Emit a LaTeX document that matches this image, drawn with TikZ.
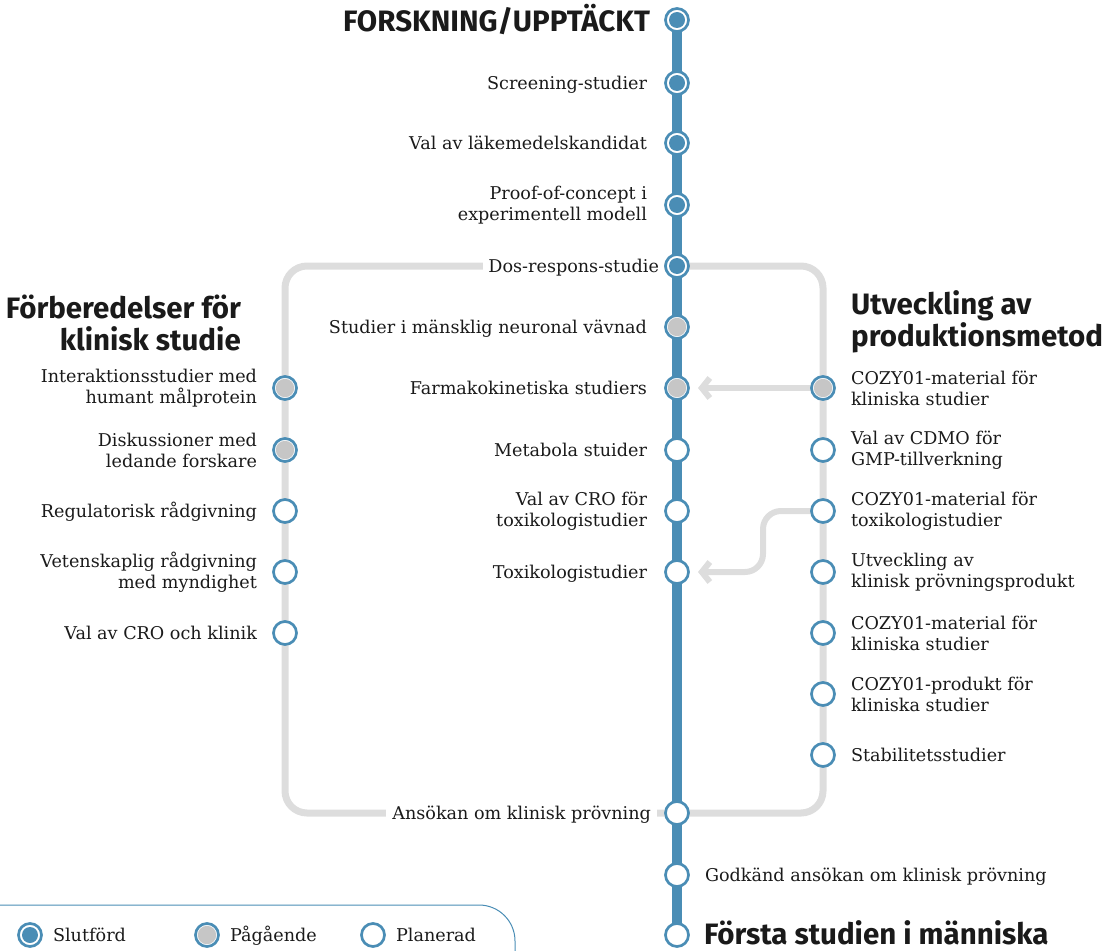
\documentclass[tikz,border=0pt]{standalone}
\usepackage{fontspec}
\setmainfont{DejaVu Serif}
\setsansfont{Fira Sans}
\usetikzlibrary{arrows.meta, positioning, backgrounds}
\definecolor{metroblue}{RGB}{74,141,181}
\definecolor{trackgray}{RGB}{221,221,221}
\definecolor{dotgray}{RGB}{198,198,198}
\definecolor{inkblack}{RGB}{26,26,26}
\tikzstyle{station} = [circle, draw=metroblue, line width=2.7pt, fill=white, minimum size=23pt, inner sep=0pt]
\tikzstyle{finished} = [station, path picture={\fill[metroblue] (path picture bounding box.center) circle (8pt);}]
\tikzstyle{ongoing} = [station, path picture={\fill[dotgray] (path picture bounding box.center) circle (9.2pt);}]
\tikzstyle{planned} = [station]
\tikzstyle{stoplabel} = [text=inkblack, font=\fontsize{17.6}{21}\selectfont, inner sep=0pt, node distance=15pt]
\tikzstyle{oneline} = [stoplabel, text height=14.5pt, text depth=2.5pt]
\tikzstyle{heading} = [text=inkblack, font=\sffamily\bfseries\fontsize{29.5}{32.5}\selectfont, inner sep=0pt, node distance=14pt]
\tikzstyle{mainline} = [draw=metroblue, line width=10pt]
\tikzstyle{track} = [draw=trackgray, line width=7pt, rounded corners=22pt]
\tikzstyle{feed} = [draw=trackgray, line width=6pt, -{Straight Barb[length=8pt, width=20pt]}, shorten >=21pt]

\begin{document}
\begin{tikzpicture}[x=1pt, y=-1pt]
    \useasboundingbox (0,0) rectangle (1115,950);

    % Main line stations
    \node [finished] (m1) at (677,20) {};
    \node [finished] (m2) at (677,83) {};
    \node [finished] (m3) at (677,143) {};
    \node [finished] (m4) at (677,205) {};
    \node [finished] (m5) at (677,266) {};
    \node [ongoing] (m6) at (677,327) {};
    \node [ongoing] (m7) at (677,388) {};
    \node [planned] (m8) at (677,450) {};
    \node [planned] (m9) at (677,511) {};
    \node [planned] (m10) at (677,572) {};
    \node [planned] (m11) at (677,813) {};
    \node [planned] (m12) at (677,875) {};
    \node [planned] (m13) at (677,935) {};

    % Left branch stations
    \node [ongoing] (l1) at (285,388) {};
    \node [ongoing] (l2) at (285,450) {};
    \node [planned] (l3) at (285,511) {};
    \node [planned] (l4) at (285,572) {};
    \node [planned] (l5) at (285,633) {};

    % Right branch stations
    \node [ongoing] (r1) at (823,388) {};
    \node [planned] (r2) at (823,450) {};
    \node [planned] (r3) at (823,511) {};
    \node [planned] (r4) at (823,572) {};
    \node [planned] (r5) at (823,633) {};
    \node [planned] (r6) at (823,694) {};
    \node [planned] (r7) at (823,755) {};

    % Main line labels
    \node [heading, left=of m1] (t1) {FORSKNING/UPPTÄCKT};
    \node [oneline, left=17pt of m2] (t2) {Screening-studier};
    \node [oneline, left=17pt of m3] (t3) {Val av läkemedelskandidat};
    \node [stoplabel, left=17pt of m4, align=right] (t4) {Proof-of-concept i\\experimentell modell};
    \node [oneline, left=0pt of m5, fill=white, inner xsep=5pt, inner ysep=4pt] (t5) {Dos-respons-studie};
    \node [oneline, left=17pt of m6] (t6) {Studier i mänsklig neuronal vävnad};
    \node [oneline, left=17pt of m7] (t7) {Farmakokinetiska studiers};
    \node [oneline, left=17pt of m8] (t8) {Metabola stuider};
    \node [stoplabel, left=17pt of m9, align=right] (t9) {Val av CRO för\\toxikologistudier};
    \node [oneline, left=17pt of m10] (t10) {Toxikologistudier};
    \node [oneline, left=7pt of m11, fill=white, inner xsep=6pt, inner ysep=4pt] (t11) {Ansökan om klinisk prövning};
    \node [oneline, right=of m12] (t12) {Godkänd ansökan om klinisk prövning};
    \node [heading, right=of m13, yshift=2pt] (t13) {Första studien i människa};

    % Left branch labels
    \node [heading, align=right, anchor=east] (hl) at (241,323) {Förberedelser för\\klinisk studie};
    \node [stoplabel, left=of l1, align=right] (tl1) {Interaktionsstudier med\\humant målprotein};
    \node [stoplabel, left=of l2, align=right] (tl2) {Diskussioner med\\ledande forskare};
    \node [oneline, left=of l3] (tl3) {Regulatorisk rådgivning};
    \node [stoplabel, left=of l4, align=right] (tl4) {Vetenskaplig rådgivning\\med myndighet};
    \node [oneline, left=of l5] (tl5) {Val av CRO och klinik};

    % Right branch labels
    \node [heading, align=left, anchor=west] (hr) at (851,322) {Utveckling av\\produktionsmetod};
    \node [stoplabel, right=of r1, align=left] (tr1) {COZY01-material för\\kliniska studier};
    \node [stoplabel, right=of r2, align=left] (tr2) {Val av CDMO för\\GMP-tillverkning};
    \node [stoplabel, right=of r3, align=left] (tr3) {COZY01-material för\\toxikologistudier};
    \node [stoplabel, right=of r4, align=left] (tr4) {Utveckling av\\klinisk prövningsprodukt};
    \node [stoplabel, right=of r5, align=left] (tr5) {COZY01-material för\\kliniska studier};
    \node [stoplabel, right=of r6, align=left] (tr6) {COZY01-produkt för\\kliniska studier};
    \node [oneline, right=of r7] (tr7) {Stabilitetsstudier};

    % Legend
    \node [finished] (k1) at (30,935) {};
    \node [oneline, right=10pt of k1] (tk1) {Slutförd};
    \node [ongoing] (k2) at (207,935) {};
    \node [oneline, right=10pt of k2] (tk2) {Pågående};
    \node [planned] (k3) at (373,935) {};
    \node [oneline, right=10pt of k3] (tk3) {Planerad};

    % Connect the stations
    \begin{pgfonlayer}{background}
        \draw [track] (m5.center) -| (l1.center) -- (l5.center) |- (m11.center);
        \draw [track] (m5.center) -| (r1.center) -- (r7.center) |- (m11.center);
        \draw [feed] (r1.center) -- (m7.center);
        \draw [feed, rounded corners=18pt] (r3.center) -- ++(-60,0) |- (m10.center);
        \draw [mainline] (m1.center) -- (m13.center);
        \draw [metroblue, line width=1pt, rounded corners=36pt] (0,905) -- (515,905) -- (515,970);
    \end{pgfonlayer}
\end{tikzpicture}
\end{document}
